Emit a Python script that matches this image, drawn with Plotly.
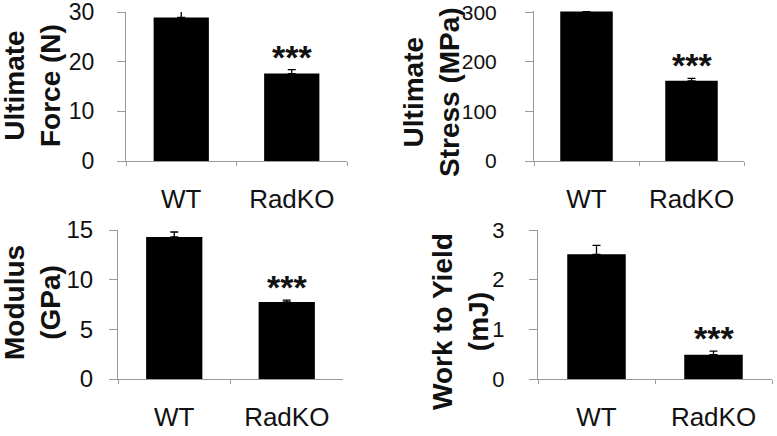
import plotly.graph_objects as go

W, H = 777, 436

groups = ["WT", "RadKO"]
force = [28.9, 17.6]
force_err = [1.3, 0.8]
stress = [302, 162]
stress_err = [0, 5]
modulus = [14.3, 7.75]
modulus_err = [0.5, 0.2]
work = [2.51, 0.49]
work_err = [0.18, 0.07]

titles = ["<b>Ultimate<br>Force (N)</b>", "<b>Ultimate<br>Stress (MPa)</b>",
          "<b>Modulus<br>(GPa)</b>", "<b>Work to Yield<br>(mJ)</b>"]
yranges = [[0, 30], [0, 303], [0, 15], [0, 3]]
ytickvals = [[0, 10, 20, 30], [0, 100, 200, 300], [0, 5, 10, 15], [0, 1, 2, 3]]

# panel geometry in pixels: (x0, x1, ytop, ybottom)
panels = [(126, 347, 12, 161), (534, 744, 11, 161), (118, 343, 230, 379), (538, 772, 230, 379)]
title_pos = [(32, 86), (431, 92), (32, 303), (460, 322)]
ystandoff = [18, 24, 11, 20]
ytsize = [23, 21, 24, 22]

data = [(force, force_err), (stress, stress_err), (modulus, modulus_err), (work, work_err)]

fig = go.Figure()
FONT = "Liberation Sans, Arial, sans-serif"
AXC = "#9a9a9a"

for i, ((vals, errs), (x0, x1, yt, yb)) in enumerate(zip(data, panels)):
    n = "" if i == 0 else str(i + 1)
    fig.add_trace(go.Bar(
        x=groups, y=vals, width=0.5, marker=dict(color="black", line=dict(width=0)),
        error_y=dict(type="data", array=errs, arrayminus=[0, 0], symmetric=False,
                     color="black", thickness=1.3, width=4),
        xaxis="x" + n, yaxis="y" + n, showlegend=False, hoverinfo="skip"))
    fig.update_layout(**{
        "xaxis" + n: dict(domain=[x0 / W, x1 / W], anchor="y" + n, type="category",
                          showline=True, linecolor=AXC, linewidth=1, ticks="outside",
                          tickson="boundaries", ticklen=4, tickcolor=AXC,
                          tickfont=dict(family=FONT, size=26, color="#111"),
                          showgrid=False, zeroline=False, ticklabelstandoff=15,
                          range=[-0.5, 1.5], automargin=False, ticklabeloverflow="allow"),
        "yaxis" + n: dict(domain=[1 - yb / H, 1 - yt / H], anchor="x" + n,
                          range=yranges[i], tickvals=ytickvals[i],
                          showline=True, linecolor=AXC, linewidth=1, ticks="outside",
                          ticklen=8, tickcolor=AXC, showgrid=False, zeroline=False,
                          ticklabelstandoff=ystandoff[i], automargin=False,
                          ticklabeloverflow="allow",
                          tickfont=dict(family=FONT, size=ytsize[i], color="#111")),
    })
    tx, ty = title_pos[i]
    fig.add_annotation(x=tx / W, y=1 - ty / H, xref="paper", yref="paper",
                       text=titles[i], textangle=-90, showarrow=False,
                       xanchor="center", yanchor="middle",
                       font=dict(family=FONT, size=28, color="#111"))
    fig.add_annotation(x=groups[1], y=vals[1] + errs[1], xref="x" + n, yref="y" + n,
                       text="<b>***</b>", showarrow=False, yanchor="middle", yshift=13,
                       font=dict(family=FONT, size=34, color="#111"))

fig.update_layout(width=W, height=H, margin=dict(l=0, r=0, t=0, b=0, autoexpand=False),
                  plot_bgcolor="white", paper_bgcolor="white", bargap=0.5)
fig.write_html("out.html", config={"displayModeBar": False, "staticPlot": True},
               post_script="document.body.style.margin='0px';")
